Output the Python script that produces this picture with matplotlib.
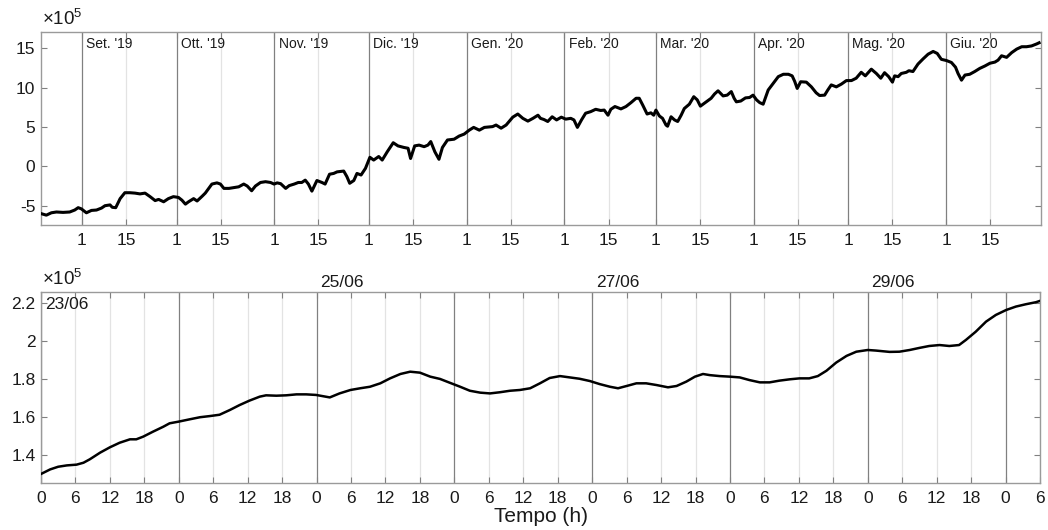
import matplotlib
matplotlib.use("Agg")
import matplotlib.pyplot as plt
import matplotlib.dates as mdates
import pandas as pd

plt.rcParams["font.family"] = ["Liberation Sans", "DejaVu Sans"]
plt.rcParams["mathtext.fontset"] = "custom"
plt.rcParams["mathtext.rm"] = "Liberation Sans"
plt.rcParams["axes.unicode_minus"] = False

# top panel: days since 19/08/2019, values in units of 1e5
START = pd.Timestamp("2019-08-19")
top_days = [
    0, 1.7, 3.3, 4.9, 7.0, 9.1, 10.7, 11.8, 12.8, 14.4, 16.0, 17.6, 19.2, 20.3, 21.9,
    22.6, 23.7, 25.1, 26.6, 28.2, 29.8, 31.4, 33.0, 34.6, 36.2, 37.3, 38.9, 40.4, 42.0,
    43.6, 44.7, 45.8, 46.8, 48.4, 49.5, 51.1, 52.1, 53.2, 54.2, 55.8, 56.9, 58.0, 59.6,
    61.1, 62.7, 64.3, 65.4, 66.8, 68.0, 69.6, 71.2, 72.8, 73.9, 74.9, 76.0, 77.6, 78.7,
    80.3, 81.6, 82.7, 83.8, 84.8, 85.9, 87.5, 89.1, 90.1, 91.5, 92.8, 93.9, 96.0, 97.0,
    97.9, 99.2, 100.2, 101.5, 102.9, 104.3, 105.5, 107.1, 108.2, 109.8, 111.7, 113.2,
    115.1, 116.4, 117.2, 118.5, 119.9, 121.5, 122.7, 123.6, 124.9, 126.2, 127.3, 128.9,
    131.0, 132.6, 134.2, 135.8, 137.2, 139.0, 140.6, 143.2, 144.3, 145.9, 147.5, 149.6,
    151.2, 152.8, 154.4, 156.0, 157.6, 158.4, 159.5, 160.7, 162.1, 163.5, 165.0, 166.4,
    168.0, 169.0, 170.1, 171.4, 172.7, 174.3, 175.9, 177.5, 178.6, 179.8, 180.7, 182.0,
    183.9, 185.5, 187.1, 188.7, 189.7, 190.8, 192.2, 193.4, 194.3, 195.0, 196.1, 197.1,
    198.2, 198.7, 199.8, 200.9, 201.9, 203.0, 204.0, 205.6, 207.0, 208.1, 209.1, 211.0,
    212.5, 213.6, 214.7, 216.3, 217.6, 218.9, 219.8, 220.5, 221.9, 223.4, 224.7, 225.8,
    226.9, 227.9, 229.0, 230.6, 232.2, 233.8, 235.4, 237.0, 238.2, 239.0, 239.8, 240.9,
    242.7, 244.3, 245.8, 246.9, 248.5, 249.5, 250.6, 252.2, 253.8, 255.4, 257.0, 258.5,
    260.1, 261.4, 263.3, 264.9, 266.3, 267.5, 268.8, 270.0, 270.7, 271.8, 272.8, 274.4,
    275.2, 276.5, 278.1, 279.7, 281.3, 282.9, 284.2, 285.5, 287.1, 288.7, 290.0, 290.8,
    291.9, 293.0, 294.5, 296.1, 297.7, 299.3, 300.9, 302.5, 303.5, 304.6, 306.2, 307.8,
    309.4, 311.0, 312.5, 314.1, 315.7, 316.5,
]
top_values = [
    -6.0, -6.2, -5.9, -5.8, -5.85, -5.8, -5.55, -5.25, -5.4, -5.9, -5.6, -5.55, -5.3, -5.0, -4.9,
    -5.2, -5.25, -4.1, -3.35, -3.35, -3.4, -3.5, -3.4, -3.85, -4.35, -4.2, -4.5, -4.1, -3.85,
    -3.95, -4.3, -4.8, -4.5, -4.1, -4.4, -3.8, -3.4, -2.8, -2.25, -2.1, -2.25, -2.8, -2.8,
    -2.7, -2.6, -2.25, -2.5, -3.1, -2.5, -2.05, -1.95, -2.05, -2.25, -2.1, -2.2, -2.8, -2.45,
    -2.25, -2.05, -2.05, -1.75, -2.25, -3.15, -1.8, -2.05, -2.25, -1.0, -0.9, -0.7, -0.6, -1.3,
    -2.15, -1.8, -0.9, -1.1, -0.25, 1.15, 0.8, 1.25, 0.8, 1.85, 3.0, 2.6,
    2.4, 2.3, 1.0, 2.6, 2.7, 2.5, 2.7, 3.15, 1.85, 0.9, 2.4, 3.35,
    3.45, 3.85, 4.1, 4.6, 4.95, 4.6, 4.95, 5.05, 5.25, 4.85, 5.25, 6.25,
    6.65, 6.1, 5.75, 6.1, 6.5, 6.1, 5.95, 5.7, 6.3, 5.9, 6.25, 6.0,
    6.1, 5.9, 4.95, 5.9, 6.75, 6.95, 7.25, 7.1, 7.15, 6.5, 7.25, 7.6,
    7.3, 7.6, 8.1, 8.65, 8.65, 7.8, 6.65, 6.8, 6.5, 7.15, 6.4, 6.1,
    5.25, 5.1, 6.3, 5.9, 5.7, 6.5, 7.35, 7.9, 8.85, 8.45, 7.65, 8.2,
    8.65, 9.2, 9.6, 8.95, 9.05, 9.5, 8.65, 8.2, 8.3, 8.7, 8.75, 9.05,
    8.45, 8.1, 7.9, 9.7, 10.55, 11.4, 11.7, 11.7, 11.5, 10.8, 9.9, 10.75,
    10.7, 10.1, 9.35, 9.0, 9.05, 9.7, 10.35, 10.1, 10.45, 10.9, 10.9, 11.2,
    11.95, 11.5, 12.35, 11.8, 11.2, 11.9, 11.4, 10.7, 11.5, 11.4, 11.8, 11.95,
    12.15, 12.05, 13.0, 13.65, 14.25, 14.6, 14.35, 13.6, 13.45, 13.2, 12.6, 11.8,
    10.95, 11.6, 11.7, 12.05, 12.45, 12.75, 13.1, 13.25, 13.5, 14.05, 13.85, 14.45,
    14.9, 15.2, 15.2, 15.3, 15.55, 15.7,
]
month_labels = [
    "Set. '19", "Ott. '19", "Nov. '19", "Dic. '19", "Gen. '20",
    "Feb. '20", "Mar. '20", "Apr. '20", "Mag. '20", "Giu. '20",
]

# bottom panel: hours since 23/06 00:00, values in units of 1e5
bottom_hours = [
    0, 1.6, 3.0, 4.5, 6.2, 7.4, 8.5, 10.3, 12.0, 13.7, 15.5, 16.6, 17.8, 19.5, 21.3, 22.4,
    24.0, 25.9, 27.7, 29.4, 31.1, 32.9, 34.6, 36.3, 38.1, 39.2, 41.0, 42.7, 44.5, 46.2,
    47.9, 50.3, 52.0, 53.9, 55.6, 57.3, 59.1, 60.8, 62.6, 64.3, 66.0, 67.8, 69.5, 71.2,
    73.0, 74.7, 76.5, 78.2, 79.9, 81.7, 83.4, 85.2, 86.9, 88.6, 90.4, 92.1, 93.8, 95.6,
    97.3, 99.1, 100.5, 102.0, 103.7, 105.4, 107.2, 109.2, 110.7, 112.4, 113.9, 115.3,
    116.5, 118.2, 120.0, 121.7, 123.4, 125.2, 126.9, 128.6, 130.4, 132.1, 133.8, 135.3,
    136.8, 138.5, 140.3, 142.0, 144.0, 145.4, 147.8, 149.5, 151.3, 153.0, 154.7, 156.5,
    158.2, 159.9, 161.1, 162.8, 164.6, 166.3, 168.1, 169.8, 171.5, 173.3, 174.0,
]
bottom_values = [
    1.302, 1.326, 1.340, 1.347, 1.351, 1.361, 1.379, 1.414, 1.442, 1.466, 1.484, 1.484, 1.498, 1.524, 1.550, 1.568,
    1.577, 1.589, 1.600, 1.606, 1.613, 1.638, 1.664, 1.687, 1.708, 1.715, 1.713, 1.715, 1.720, 1.720,
    1.717, 1.704, 1.725, 1.743, 1.752, 1.760, 1.778, 1.804, 1.827, 1.839, 1.834, 1.813, 1.801, 1.781,
    1.760, 1.739, 1.729, 1.725, 1.731, 1.739, 1.743, 1.752, 1.778, 1.806, 1.816, 1.809, 1.802, 1.790,
    1.774, 1.760, 1.752, 1.764, 1.778, 1.778, 1.769, 1.757, 1.764, 1.787, 1.813, 1.827,
    1.821, 1.816, 1.813, 1.809, 1.795, 1.783, 1.783, 1.792, 1.799, 1.804, 1.804, 1.816,
    1.844, 1.887, 1.922, 1.944, 1.953, 1.950, 1.943, 1.944, 1.953, 1.964, 1.974, 1.979,
    1.974, 1.979, 2.006, 2.049, 2.102, 2.137, 2.163, 2.181, 2.193, 2.204, 2.211,
]
day_labels = ["23/06", "25/06", "27/06", "29/06"]
day_label_hours = [0, 48, 96, 144]

MAJOR = "#808080"
MINOR = "#e3e3e3"
FRAME = "#9a9a9a"
TEXT = "#1a1a1a"


def style_axes(ax):
    for spine in ax.spines.values():
        spine.set_color(FRAME)
        spine.set_linewidth(1.0)
    ax.tick_params(direction="in", top=True, right=True, length=4, width=0.8,
                   color=MAJOR, labelsize=12.5, labelcolor=TEXT)
    ax.tick_params(axis="x", pad=5.5)
    ax.tick_params(axis="y", pad=4)
    ax.text(0.001, 1.015, r"$\times10^{5}$", transform=ax.transAxes, fontsize=13.5,
            color=TEXT, ha="left", va="bottom")


fig = plt.figure(figsize=(10.48, 5.30), dpi=100)
ax1 = fig.add_axes([0.0391, 0.5755, 0.9539, 0.3635])
ax2 = fig.add_axes([0.0391, 0.0881, 0.9533, 0.3615])

# --- top panel
dates = START + pd.to_timedelta(top_days, unit="D")
month_starts = pd.date_range("2019-09-01", periods=len(month_labels), freq="MS")
month_mids = month_starts + pd.Timedelta(days=14)
for d in month_mids:
    ax1.axvline(d, color=MINOR, lw=0.9, zorder=1)
for d in month_starts:
    ax1.axvline(d, color=MAJOR, lw=0.9, zorder=1)
ax1.plot(dates, top_values, color="black", lw=2.2, zorder=3)
for d, label in zip(month_starts, month_labels):
    ax1.annotate(label, xy=(d, 1), xycoords=("data", "axes fraction"),
                 xytext=(3, -3.5), textcoords="offset points",
                 ha="left", va="top", fontsize=10, color=TEXT)
ax1.set_xlim(START, pd.Timestamp("2020-07-01"))
ax1.set_ylim(-7.45, 17.03)
ax1.set_yticks([-5, 0, 5, 10, 15])
ax1.set_xticks(sorted(list(month_starts) + list(month_mids)))
ax1.xaxis.set_major_formatter(
    plt.FuncFormatter(lambda x, pos: str(mdates.num2date(x).day)))
style_axes(ax1)

# --- bottom panel
for h in range(0, 175, 6):
    ax2.axvline(h, color=MAJOR if h % 24 == 0 else MINOR, lw=0.9, zorder=1)
ax2.plot(bottom_hours, bottom_values, color="black", lw=1.8, zorder=3)
for h, label in zip(day_label_hours, day_labels):
    if h == 0:
        ax2.annotate(label, xy=(h, 1), xycoords=("data", "axes fraction"),
                     xytext=(3, -3.5), textcoords="offset points",
                     ha="left", va="top", fontsize=12.5, color=TEXT)
    else:
        ax2.annotate(label, xy=(h, 1), xycoords=("data", "axes fraction"),
                     xytext=(2.5, 3.5), textcoords="offset points",
                     ha="left", va="baseline", fontsize=12.5, color=TEXT)
ax2.set_xlim(0, 174)
ax2.set_ylim(1.253, 2.259)
ax2.set_yticks([1.4, 1.6, 1.8, 2.0, 2.2])
ax2.yaxis.set_major_formatter(plt.FuncFormatter(lambda v, pos: f"{v:g}"))
ax2.set_xticks(range(0, 175, 6))
ax2.set_xticklabels([str(h % 24) for h in range(0, 175, 6)])
ax2.set_xlabel("Tempo (h)", fontsize=15, color=TEXT, labelpad=1)
style_axes(ax2)

fig.savefig("out.png", dpi=100)
